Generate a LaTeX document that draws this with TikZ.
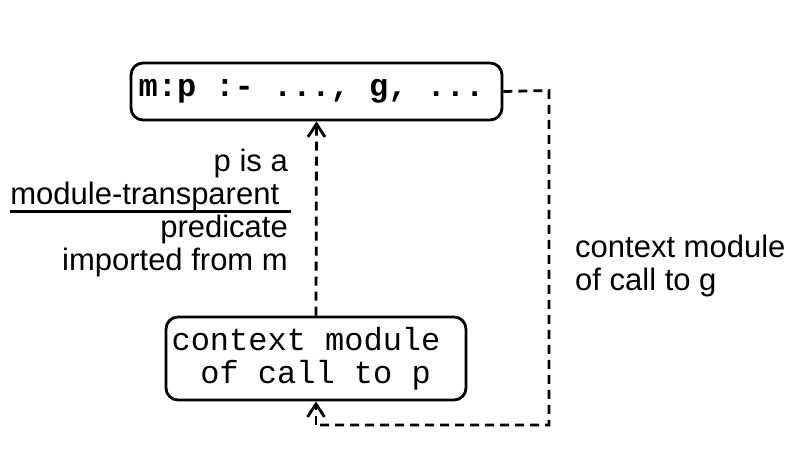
\documentclass[tikz,border=0pt]{standalone}
\usepackage{fontspec}
\setmainfont{Liberation Sans}
\setmonofont{Liberation Mono}
\usetikzlibrary{arrows.meta}
\newcommand\myunderline[2]{\setbox0\hbox{#1}\rlap{\rule[-8.5pt]{\dimexpr\wd0+#2\relax}{2.2pt}}\box0}
\tikzset{
  box/.style={draw, line width=2.8pt, rounded corners=12pt, inner sep=0pt, align=center},
  conn/.style={line width=2.8pt, dash pattern=on 9pt off 6pt, -{Straight Barb[length=13pt,width=17pt,line width=2.8pt]}},
  conn2/.style={line width=2.8pt, dash pattern=on 9pt off 6pt},
  lbl/.style={inner sep=0pt, font=\fontsize{31pt}{33pt}\selectfont}
}
\begin{document}
\begin{tikzpicture}[x=1pt,y=1pt]
\useasboundingbox (0,0) rectangle (792,452);
\node[box, minimum width=371pt, minimum height=57pt, font=\fontsize{32pt}{34.5pt}\selectfont\ttfamily\bfseries] (top) at (316.5,360.5) {m:p :- ..., g, ...\hspace*{10pt}};
\node[box, minimum width=300pt, minimum height=83pt, font=\fontsize{32pt}{33pt}\selectfont\ttfamily] (bot) at (316,93.5) {context module\hspace*{20pt}\\\hphantom{x}of call to p\hspace*{20pt}};
\node[lbl, align=right, anchor=east] (left) at (288,239.5) {p is a\\\myunderline{module-transparent\ }{3pt}\\predicate\\imported from m};
\node[lbl, align=left, anchor=west] (right) at (575,186.5) {context module\\of call to g};
\coordinate (c1) at (549,361.5);
\coordinate (c2) at (549,27);
\coordinate (c3) at (316,27);
\draw[conn] (bot.north) -- (top.south);
\draw[conn2] (top.east) -- (c1) -- (c2) -- (c3);
\draw[conn] (c3) -- (bot.south);
\end{tikzpicture}
\end{document}
